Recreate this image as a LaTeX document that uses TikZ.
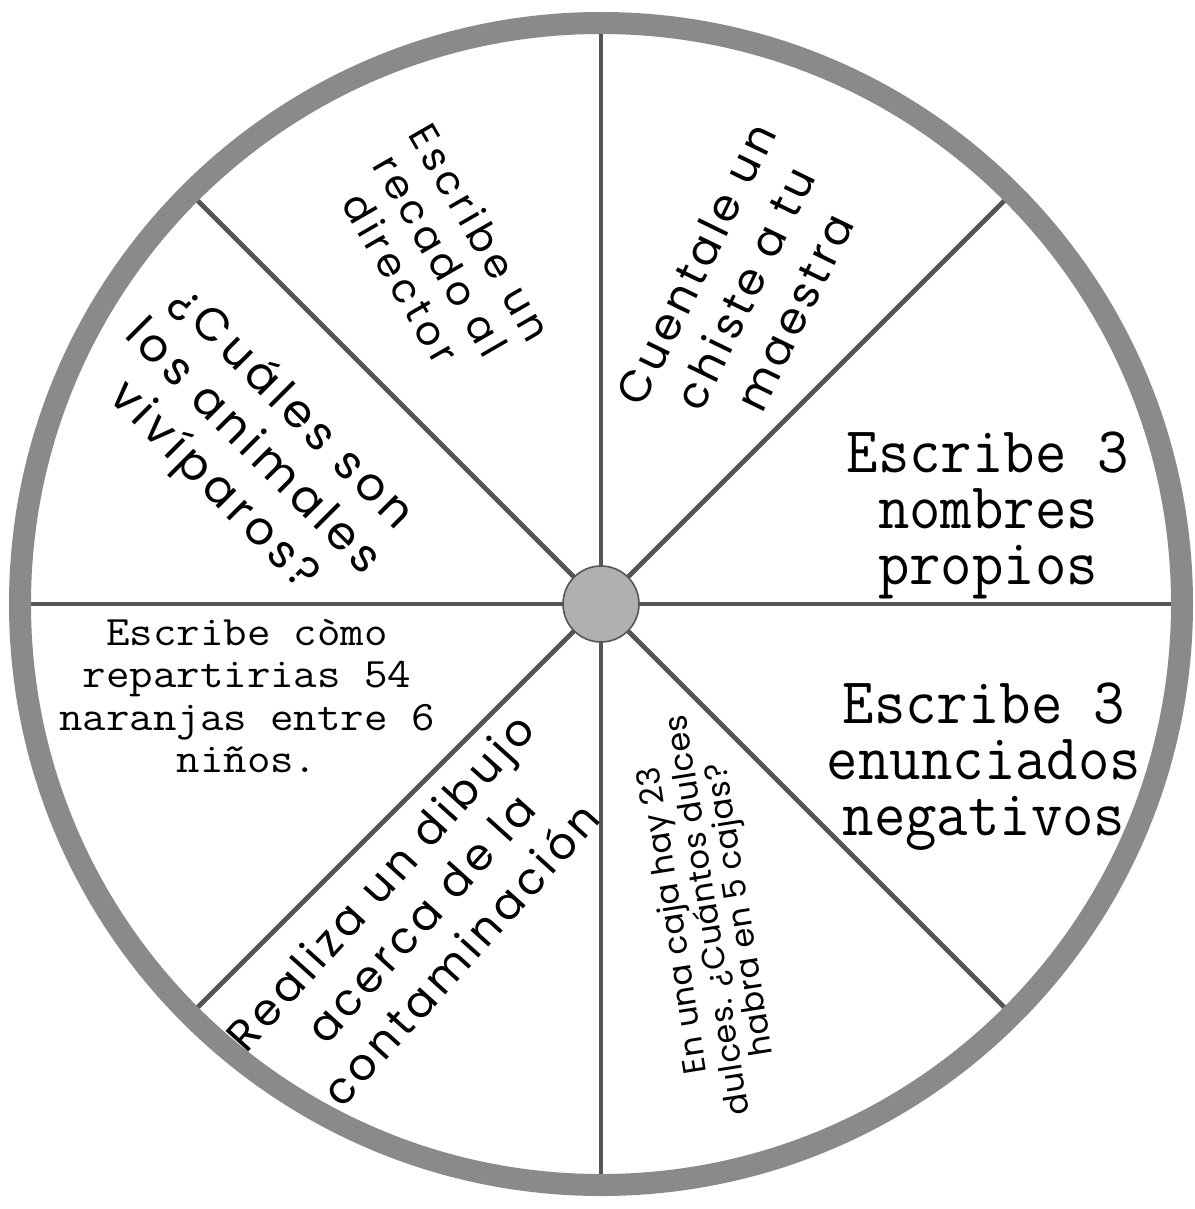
\documentclass[tikz,border=0pt]{standalone}
\usepackage{fontspec}
\setmainfont{Liberation Serif}
\newfontfamily\roundfont{Poppins}
\usetikzlibrary{positioning}
\definecolor{cRim}{HTML}{8A8A8A}
\definecolor{cSpoke}{HTML}{555555}
\definecolor{cHub}{HTML}{B0B0B0}
\tikzset{
  rim/.style={draw=cRim, line width=11pt},
  spoke/.style={draw=cSpoke, line width=2.4pt},
  hub/.style={circle, draw=cSpoke, fill=cHub, line width=0.8pt,
              minimum size=38pt, inner sep=0pt},
  typed/.style={align=center, inner sep=0pt, text=black},
  bigtype/.style={typed, font=\ttfamily\fontsize{30.5}{26.2}\selectfont, yscale=1.07},
  smalltype/.style={typed, font=\ttfamily\fontsize{22.8}{23.1}\selectfont, yscale=0.92},
  slicetext/.style n args={3}{align=center, inner sep=0pt, text=black,
                    font=\roundfont\fontsize{#1}{#2}\selectfont\addfontfeature{LetterSpace=#3}},
}
\begin{document}
\begin{tikzpicture}[x=0.5pt, y=0.5pt]
  \useasboundingbox (0,0) rectangle (1194,-1209);
  \coordinate (C) at (601,-604);
  % spokes
  \foreach \a in {0,45,...,315}
    \draw[spoke] (C) -- +(\a:575);
  % rim
  \draw[rim] (C) circle[radius=581];
  \node[hub] (hub) at (C) {};
  % flat slices
  \node[bigtype] (propios) at (988,-515) {Escribe 3\\nombres\\propios};
  \node[bigtype] (negativos) at (984,-767) {Escribe 3\\enunciados\\negativos};
  \node[smalltype] (naranjas) at (247,-696) {Escribe còmo\\repartirias 54\\naranjas entre 6\\niños.};
  % turned slices
  \node[slicetext={20}{23}{12}, rotate=-60] (recado) at (441,-255) {Escribe un\\recado al\\director};
  \node[slicetext={22}{27.5}{9.5}, rotate=64] (chiste) at (745,-288) {Cuentale un\\chiste a tu\\maestra};
  \node[slicetext={23}{27.5}{10.5}, rotate=-45] (viviparos) at (252,-448) {¿Cuáles son\\los animales\\vivíparos?};
  \node[slicetext={22}{27}{10}, rotate=48] (dibujo) at (420,-918) {Realiza un dibujo\\acerca de la\\contaminación};
  \node[slicetext={16}{16}{2}, rotate=99] (dulces) at (708,-915) {En una caja hay 23\\dulces. ¿Cuántos dulces\\habra en 5 cajas?};
\end{tikzpicture}
\end{document}
